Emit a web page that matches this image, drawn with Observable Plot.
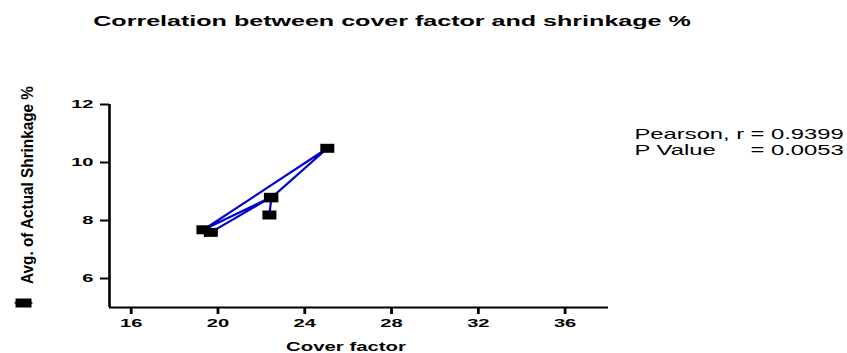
<!DOCTYPE html>
<html><head><meta charset="utf-8">
<script src="https://cdn.jsdelivr.net/npm/d3@7"></script>
<script src="https://cdn.jsdelivr.net/npm/@observablehq/plot@0.6"></script>
<style>
html,body{margin:0;padding:0;background:#fff;}
</style></head><body><div id="chart"></div>
<script>
// ---- data ----
const coverFactor = [19.67, 22.44, 19.33, 25.04, 22.46, 22.37];
const shrinkage   = [7.59, 8.80, 7.68, 10.49, 8.78, 8.19];
const xTicks = [16, 20, 24, 28, 32, 36];
const yTicks = [6, 8, 10, 12];
const xDomain = [15, 38];
const yDomain = [5, 12];
const title = "Correlation between cover factor and shrinkage %";
const xLabel = "Cover factor";
const yLabel = "Avg. of Actual Shrinkage %";
const statNames = ["Pearson, r", "P Value"];
const statValues = ["= 0.9399", "= 0.0053"];

const data = coverFactor.map((x, i) => ({x, y: shrinkage[i]}));
const stats = statNames.map((n, i) => ({name: n, value: statValues[i], i}));

const FONT = "'Liberation Sans', Arial, Helvetica, sans-serif";
const box = {draw(ctx) { ctx.rect(-7, -4.5, 14, 9); }};
const legendBox = {draw(ctx) { ctx.rect(-8, -4.5, 16, 9); }};
const legendStub = {draw(ctx) { ctx.moveTo(-9, 0); ctx.lineTo(9, 0); }};

const plot = Plot.plot({
  width: 847, height: 353,
  marginLeft: 109, marginRight: 239, marginTop: 104, marginBottom: 46,
  style: {fontFamily: FONT, fontWeight: "bold", color: "#000", background: "#fff", overflow: "visible"},
  x: {domain: xDomain},
  y: {domain: yDomain},
  marks: [
    Plot.axisX({ticks: xTicks, tickSize: 7, tickPadding: 4.5, fontSize: 11.5, strokeWidth: 2.8, label: null, tickFormat: d => String(d)}),
    Plot.axisY({ticks: yTicks, tickSize: 9, tickPadding: 7, fontSize: 11.5, strokeWidth: 2, label: null, tickFormat: d => String(d)}),
    Plot.ruleX([xDomain[0]], {strokeWidth: 2.6}),
    Plot.ruleY([yDomain[0]], {strokeWidth: 2.2}),
    Plot.line(data, {x: "x", y: "y", stroke: "#0000cc", strokeWidth: 2.2}),
    Plot.dot(data, {x: "x", y: "y", symbol: box, fill: "#000", stroke: "none"}),
    // title
    Plot.text([title], {text: d => d, frameAnchor: "top", dx: 33, dy: -79, lineAnchor: "bottom", fontSize: 14, fontWeight: "bold"}),
    // x label
    Plot.text([xLabel], {text: d => d, frameAnchor: "bottom", dx: -13, dy: 43.5, lineAnchor: "bottom", fontSize: 12, fontWeight: "bold"}),
    // y label
    Plot.text([yLabel], {text: d => d, frameAnchor: "left", textAnchor: "middle", lineAnchor: "middle", rotate: -90, dx: -82, dy: -21, fontSize: 16.5, fontWeight: "bold"}),
    // legend symbol
    Plot.dot([0], {frameAnchor: "bottom-left", dx: -86, dy: -4.5, symbol: legendStub, stroke: "#0000cc", strokeWidth: 1.5, fill: "none"}),
    Plot.dot([0], {frameAnchor: "bottom-left", dx: -86, dy: -4.5, symbol: legendBox, fill: "#000", stroke: "none"}),
    // stats
    Plot.text(stats, {text: "name", frameAnchor: "top-right", dx: 26, fontSize: 14, fontWeight: "normal", textAnchor: "start", lineAnchor: "bottom"}),
    Plot.text(stats, {text: "value", frameAnchor: "top-right", dx: 142, fontSize: 14, fontWeight: "normal", textAnchor: "start", lineAnchor: "bottom"})
  ]
});
document.getElementById("chart").appendChild(plot);

// ---- horizontal stretch of text (the reference is horizontally stretched) ----
function stretch(el, sx, sy = 1) {
  let t = el.getAttribute("transform");
  if (!t) {
    const x = el.getAttribute("x") || 0, y = el.getAttribute("y") || 0;
    el.removeAttribute("x"); el.removeAttribute("y");
    t = `translate(${x},${y})`;
  }
  el.setAttribute("transform", `${t} scale(${sx},${sy})`);
}
const texts = Array.from(plot.querySelectorAll("text"));
const byText = s => texts.filter(t => t.textContent === s);
plot.querySelectorAll('g[aria-label="x-axis tick label"] text, g[aria-label="y-axis tick label"] text').forEach(t => stretch(t, 1.75));
byText(title).forEach(t => stretch(t, 598 / t.getComputedTextLength()));
byText(xLabel).forEach(t => stretch(t, 120 / t.getComputedTextLength()));
byText(yLabel).forEach(t => stretch(t, 198 / t.getComputedTextLength()));
// stats lines: vertical placement of each line + stretch
statNames.concat(statValues).forEach(s => byText(s).forEach(t => {
  const i = Math.max(statNames.indexOf(s), statValues.indexOf(s));
  const cur = t.getAttribute("transform") || `translate(${t.getAttribute("x")||0},${t.getAttribute("y")||0})`;
  t.removeAttribute("x"); t.removeAttribute("y");
  t.setAttribute("transform", `translate(0,${34 + i * 16}) ${cur}`);
  stretch(t, 1.7);
}));
</script>
</body></html>
